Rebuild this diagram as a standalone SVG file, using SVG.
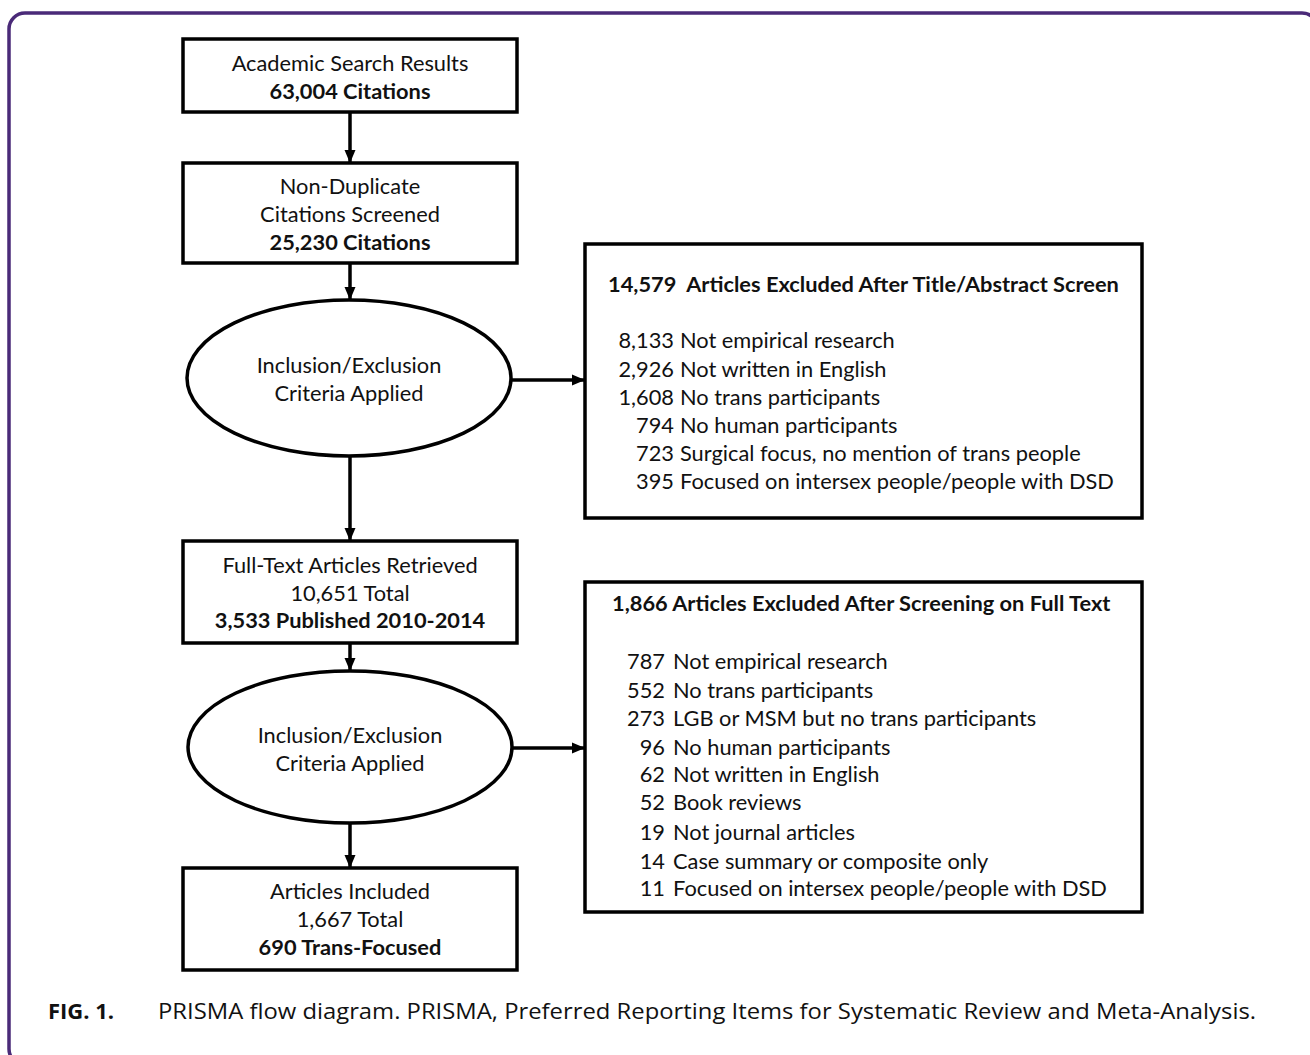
<svg xmlns="http://www.w3.org/2000/svg" width="1310" height="1055" viewBox="0 0 1310 1055">
<defs>
<marker id="ah" markerUnits="userSpaceOnUse" markerWidth="14" markerHeight="14" viewBox="0 0 14 14" refX="13" refY="7" orient="auto">
<path d="M0,1.5 L13,7 L0,12.5 Z" fill="#000"/>
</marker>
<style>
.box{fill:#fff;stroke:#000;stroke-width:3.5}
.t{font-family:Lato,"Open Sans","Liberation Sans",sans-serif;font-size:21.8px;fill:#111}
.c{text-anchor:middle}
.b{font-weight:bold}
.conn line{stroke:#000;stroke-width:3.5;marker-end:url(#ah)}
.cap{font-family:"Open Sans","Liberation Sans",sans-serif;font-size:22px;fill:#111}
</style>
</defs>
<rect x="0" y="0" width="1310" height="1055" fill="#fff"/>
<rect x="9" y="13" width="1309" height="1052" rx="16" fill="none" stroke="#4a2a78" stroke-width="3.5"/>

<g id="connectors" class="conn">
<line x1="350" y1="112" x2="350" y2="163"/>
<line x1="350" y1="263" x2="350" y2="300"/>
<line x1="350" y1="454" x2="350" y2="541"/>
<line x1="350" y1="643" x2="350" y2="671"/>
<line x1="350" y1="823" x2="350" y2="868"/>
<line x1="511" y1="380" x2="585" y2="380"/>
<line x1="512" y1="748" x2="585" y2="748"/>
</g>

<g id="n-search">
<rect class="box" x="183" y="39" width="334" height="73"/>
<text class="t c" x="350" y="71">Academic Search Results</text>
<text class="t c b" x="350" y="99">63,004 Citations</text>
</g>

<g id="n-screened">
<rect class="box" x="183" y="163" width="334" height="100"/>
<text class="t c" x="350" y="194">Non-Duplicate</text>
<text class="t c" x="350" y="222">Citations Screened</text>
<text class="t c b" x="350" y="250">25,230 Citations</text>
</g>

<g id="n-criteria1">
<ellipse class="box" cx="349" cy="378" rx="162" ry="78"/>
<text class="t c" x="349" y="373">Inclusion/Exclusion</text>
<text class="t c" x="349" y="401">Criteria Applied</text>
</g>

<g id="n-excluded1">
<rect class="box" x="585" y="244" width="557" height="274"/>
<text class="t b" x="608" y="292">14,579&#160; Articles Excluded After Title/Abstract Screen</text>
<text class="t"><tspan x="674" y="348" text-anchor="end">8,133</tspan><tspan x="680" y="348">Not empirical research</tspan></text>
<text class="t"><tspan x="674" y="377" text-anchor="end">2,926</tspan><tspan x="680" y="377">Not written in English</tspan></text>
<text class="t"><tspan x="674" y="405" text-anchor="end">1,608</tspan><tspan x="680" y="405">No trans participants</tspan></text>
<text class="t"><tspan x="674" y="433" text-anchor="end">794</tspan><tspan x="680" y="433">No human participants</tspan></text>
<text class="t"><tspan x="674" y="461" text-anchor="end">723</tspan><tspan x="680" y="461">Surgical focus, no mention of trans people</tspan></text>
<text class="t"><tspan x="674" y="489" text-anchor="end">395</tspan><tspan x="680" y="489">Focused on intersex people/people with DSD</tspan></text>
</g>

<g id="n-fulltext">
<rect class="box" x="183" y="541" width="334" height="102"/>
<text class="t c" x="350" y="573">Full-Text Articles Retrieved</text>
<text class="t c" x="350" y="601">10,651 Total</text>
<text class="t c b" x="350" y="628">3,533 Published 2010-2014</text>
</g>

<g id="n-criteria2">
<ellipse class="box" cx="350" cy="747" rx="162" ry="76"/>
<text class="t c" x="350" y="743">Inclusion/Exclusion</text>
<text class="t c" x="350" y="771">Criteria Applied</text>
</g>

<g id="n-excluded2">
<rect class="box" x="585" y="582" width="557" height="330"/>
<text class="t b" x="612" y="611">1,866 Articles Excluded After Screening on Full Text</text>
<text class="t"><tspan x="665" y="669" text-anchor="end">787</tspan><tspan x="673" y="669">Not empirical research</tspan></text>
<text class="t"><tspan x="665" y="698" text-anchor="end">552</tspan><tspan x="673" y="698">No trans participants</tspan></text>
<text class="t"><tspan x="665" y="726" text-anchor="end">273</tspan><tspan x="673" y="726">LGB or MSM but no trans participants</tspan></text>
<text class="t"><tspan x="665" y="755" text-anchor="end">96</tspan><tspan x="673" y="755">No human participants</tspan></text>
<text class="t"><tspan x="665" y="782" text-anchor="end">62</tspan><tspan x="673" y="782">Not written in English</tspan></text>
<text class="t"><tspan x="665" y="810" text-anchor="end">52</tspan><tspan x="673" y="810">Book reviews</tspan></text>
<text class="t"><tspan x="665" y="840" text-anchor="end">19</tspan><tspan x="673" y="840">Not journal articles</tspan></text>
<text class="t"><tspan x="665" y="869" text-anchor="end">14</tspan><tspan x="673" y="869">Case summary or composite only</tspan></text>
<text class="t"><tspan x="665" y="896" text-anchor="end">11</tspan><tspan x="673" y="896">Focused on intersex people/people with DSD</tspan></text>
</g>

<g id="n-included">
<rect class="box" x="183" y="868" width="334" height="102"/>
<text class="t c" x="350" y="899">Articles Included</text>
<text class="t c" x="350" y="927">1,667 Total</text>
<text class="t c b" x="350" y="955">690 Trans-Focused</text>
</g>

<text class="cap" y="1019"><tspan x="48" font-weight="bold">FIG. 1.</tspan><tspan x="158" textLength="1098" lengthAdjust="spacingAndGlyphs">PRISMA flow diagram. PRISMA, Preferred Reporting Items for Systematic Review and Meta-Analysis.</tspan></text>
</svg>
